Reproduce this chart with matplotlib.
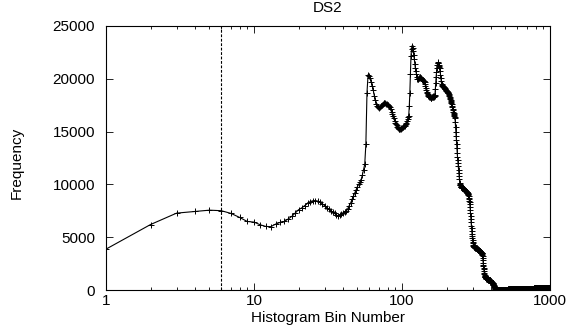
import numpy as np
import matplotlib
matplotlib.use("Agg")
from matplotlib import pyplot as plt
from matplotlib.ticker import LogLocator, FixedLocator, NullFormatter

# frequency per histogram bin (bins 1..1000)
freq_001_060 = [
    3870, 6200, 7280, 7440, 7560, 7510, 7250, 6870, 6490, 6430,
    6180, 6020, 6000, 6240, 6400, 6490, 6720, 6970, 7290, 7600,
    7770, 7990, 8200, 8380, 8450, 8470, 8420, 8300, 8150, 8000,
    7800, 7650, 7500, 7350, 7250, 7100, 7030, 7100, 7200, 7280,
    7380, 7440, 7700, 8000, 8240, 8600, 8900, 9200, 9500, 9800,
    10000, 10200, 10460, 10900, 11400, 11900, 13800, 18700, 20400, 20300,
]
freq_061_120 = [
    20100, 19700, 19330, 18900, 18380, 18000, 17600, 17400, 17300, 17270,
    17300, 17400, 17550, 17650, 17750, 17750, 17700, 17650, 17600, 17550,
    17500, 17450, 17300, 17100, 16850, 16650, 16450, 16250, 16050, 15850,
    15700, 15600, 15450, 15350, 15250, 15200, 15200, 15250, 15300, 15350,
    15400, 15450, 15500, 15550, 15650, 15750, 15850, 16000, 16150, 16350,
    16500, 17400, 18700, 20500, 22180, 22800, 23130, 22900, 22600, 22300,
]
freq_121_180 = [
    21900, 21400, 21000, 20700, 20500, 20200, 20000, 19960, 20000, 20050,
    20100, 20150, 20150, 20120, 20100, 20000, 19900, 19850, 19800, 19800,
    19800, 19700, 19500, 19300, 19100, 18900, 18750, 18650, 18550, 18500,
    18400, 18350, 18300, 18250, 18250, 18200, 18200, 18220, 18250, 18300,
    18350, 18300, 18250, 18300, 18350, 18400, 18500, 19000, 19600, 20200,
    20600, 21000, 21300, 21500, 21550, 21450, 21350, 21200, 21100, 21000,
]
freq_181_240 = [
    20700, 20400, 20100, 19800, 19500, 19400, 19350, 19300, 19300, 19250,
    19200, 19200, 19150, 19100, 19050, 19000, 18950, 18900, 18850, 18800,
    18800, 18750, 18750, 18700, 18700, 18650, 18600, 18500, 18400, 18300,
    18200, 18100, 18000, 17900, 17800, 17700, 17600, 17450, 17300, 17150,
    17000, 16900, 16800, 16700, 16600, 16500, 16400, 16300, 15900, 15400,
    15000, 14600, 14200, 13800, 13400, 13000, 12600, 12300, 12000, 11700,
]
freq_241_300 = [
    11400, 11100, 10800, 10500, 10150, 10000, 9950, 9900, 9850, 9800,
    9800, 9750, 9750, 9700, 9700, 9700, 9680, 9670, 9650, 9620,
    9600, 9580, 9550, 9520, 9500, 9480, 9450, 9420, 9400, 9380,
    9350, 9320, 9300, 9270, 9250, 9200, 9180, 9150, 9100, 9080,
    9030, 8900, 8750, 8600, 8450, 8300, 8150, 7900, 7600, 7300,
    7000, 6700, 6400, 6100, 5850, 5600, 5350, 5100, 4900, 4700,
]
freq_301_360 = [
    4550, 4440, 4300, 4200, 4150, 4100, 4080, 4060, 4050, 4040,
    4030, 4020, 4010, 4000, 3990, 3980, 3970, 3960, 3950, 3930,
    3910, 3900, 3880, 3860, 3850, 3830, 3810, 3800, 3780, 3760,
    3750, 3730, 3710, 3700, 3680, 3660, 3650, 3630, 3610, 3600,
    3580, 3560, 3550, 3530, 3510, 3500, 3490, 3450, 3350, 3200,
    3000, 2800, 2600, 2400, 2250, 2100, 1950, 1800, 1650, 1500,
]
freq_361_440 = [
    1400, 1350, 1300, 1260, 1230, 1200, 1180, 1160, 1140, 1120,
    1100, 1080, 1070, 1060, 1050, 1040, 1030, 1020, 1010, 1000,
    1000, 990, 990, 980, 980, 970, 970, 960, 960, 955,
    950, 950, 940, 920, 900, 880, 860, 840, 820, 800,
    780, 760, 740, 720, 700, 680, 660, 650, 640, 620,
    600, 570, 540, 510, 480, 450, 420, 390, 360, 330,
    300, 270, 240, 210, 180, 160, 130, 110, 90, 70,
    60, 50, 50, 40, 40, 40, 30, 30, 30, 30,
]
freq_441_1000 = [
    30, 30, 30, 30, 30, 30, 30, 30, 30, 30, 30, 30, 30, 30, 30, 30, 30, 30, 30, 30,
    30, 30, 30, 30, 30, 30, 30, 30, 30, 30, 30, 30, 30, 30, 30, 30, 30, 30, 30, 30,
    30, 30, 30, 30, 30, 30, 30, 30, 30, 30, 30, 30, 30, 30, 30, 30, 30, 30, 30, 30,
    40, 40, 40, 40, 40, 40, 40, 40, 40, 40, 40, 40, 40, 40, 40, 40, 40, 40, 40, 40,
    50, 50, 50, 50, 50, 50, 50, 50, 50, 50, 50, 50, 50, 50, 50, 50, 50, 50, 50, 50,
    60, 60, 60, 60, 60, 60, 60, 60, 60, 60, 60, 60, 60, 60, 60, 60, 60, 60, 60, 60,
    70, 70, 70, 70, 70, 70, 70, 70, 70, 70, 70, 70, 70, 70, 70, 70, 70, 70, 70, 70,
    80, 80, 80, 80, 80, 80, 80, 80, 80, 80, 80, 80, 80, 80, 80, 80, 80, 80, 80, 80,
    90, 90, 90, 90, 90, 90, 90, 90, 90, 90, 90, 90, 90, 90, 90, 90, 90, 90, 90, 90,
    100, 100, 100, 100, 100, 100, 100, 100, 100, 100, 100, 100, 100, 100, 100, 100, 100, 100, 100, 100,
    110, 110, 110, 110, 110, 110, 110, 110, 110, 110, 110, 110, 110, 110, 110, 110, 110, 110, 110, 110,
    120, 120, 120, 120, 120, 120, 120, 120, 120, 120, 120, 120, 120, 120, 120, 120, 120, 120, 120, 120,
    120, 120, 120, 120, 120, 120, 120, 120, 120, 120, 120, 120, 120, 120, 120, 120, 120, 120, 120, 120,
    130, 130, 130, 130, 130, 130, 130, 130, 130, 130, 130, 130, 130, 130, 130, 130, 130, 130, 130, 130,
    130, 130, 130, 130, 130, 130, 130, 130, 130, 130, 130, 130, 130, 130, 130, 130, 130, 130, 130, 130,
    140, 140, 140, 140, 140, 140, 140, 140, 140, 140, 140, 140, 140, 140, 140, 140, 140, 140, 140, 140,
    140, 140, 140, 140, 140, 140, 140, 140, 140, 140, 140, 140, 140, 140, 140, 140, 140, 140, 140, 140,
    150, 150, 150, 150, 150, 150, 150, 150, 150, 150, 150, 150, 150, 150, 150, 150, 150, 150, 150, 150,
    150, 150, 150, 150, 150, 150, 150, 150, 150, 150, 150, 150, 150, 150, 150, 150, 150, 150, 150, 150,
    150, 150, 150, 150, 150, 150, 150, 150, 150, 150, 150, 150, 150, 150, 150, 150, 150, 150, 150, 150,
    160, 160, 160, 160, 160, 160, 160, 160, 160, 160, 160, 160, 160, 160, 160, 160, 160, 160, 160, 160,
    160, 160, 160, 160, 160, 160, 160, 160, 160, 160, 160, 160, 160, 160, 160, 160, 160, 160, 160, 160,
    160, 160, 160, 160, 160, 160, 160, 160, 160, 160, 160, 160, 160, 160, 160, 160, 160, 160, 160, 160,
    160, 160, 160, 160, 160, 160, 160, 160, 160, 160, 160, 160, 160, 160, 160, 160, 160, 160, 160, 160,
    170, 170, 170, 170, 170, 170, 170, 170, 170, 170, 170, 170, 170, 170, 170, 170, 170, 170, 170, 170,
    170, 170, 170, 170, 170, 170, 170, 170, 170, 170, 170, 170, 170, 170, 170, 170, 170, 170, 170, 170,
    170, 170, 170, 170, 170, 170, 170, 170, 170, 170, 170, 170, 170, 170, 170, 170, 170, 170, 170, 170,
    170, 170, 170, 170, 170, 170, 170, 170, 170, 170, 170, 170, 170, 170, 170, 170, 170, 170, 170, 170,
]
cutoff_bin = 6
y_ticks = [0, 5000, 10000, 15000, 20000, 25000]
x_ticks = [1, 10, 100, 1000]

freq = (freq_001_060 + freq_061_120 + freq_121_180 + freq_181_240 +
        freq_241_300 + freq_301_360 + freq_361_440 + freq_441_1000)
bins = np.arange(1, len(freq) + 1)

plt.rcParams['font.family'] = ['Liberation Sans', 'DejaVu Sans']
plt.rcParams['font.size'] = 11

fig = plt.figure(figsize=(5.71, 3.34), dpi=100)
ax = fig.add_axes([106 / 571, 1 - 290 / 334, 444 / 571, 264 / 334])

ax.plot(bins, freq, color='black', lw=0.8, marker='+', ms=4.5, mew=0.7)
ax.axvline(cutoff_bin, color='black', lw=0.8, ls=(0, (2.5, 1.5)))

ax.set_xscale('log')
ax.set_xlim(1, 1000)
ax.set_ylim(0, 25000)
ax.xaxis.set_major_locator(FixedLocator(x_ticks))
ax.set_xticklabels([str(t) for t in x_ticks])
ax.xaxis.set_minor_locator(LogLocator(base=10, subs=np.arange(2, 10)))
ax.xaxis.set_minor_formatter(NullFormatter())
ax.set_yticks(y_ticks)
ax.set_yticklabels([str(t) for t in y_ticks])

ax.tick_params(which='both', direction='in', top=True, right=True, width=0.6)
ax.tick_params(which='major', length=5)
ax.tick_params(axis='x', which='major', pad=3)
ax.tick_params(axis='y', which='major', pad=8)
ax.tick_params(which='minor', length=2.5)
for s in ax.spines.values():
    s.set_linewidth(0.8)

ax.set_title("DS2", fontsize=11, pad=10)
ax.set_xlabel("Histogram Bin Number", va='top')
ax.xaxis.set_label_coords(0.5, -0.08)
ax.set_ylabel("Frequency")
ax.yaxis.set_label_coords(-0.185, 0.48)

fig.savefig("out.png", dpi=100)
